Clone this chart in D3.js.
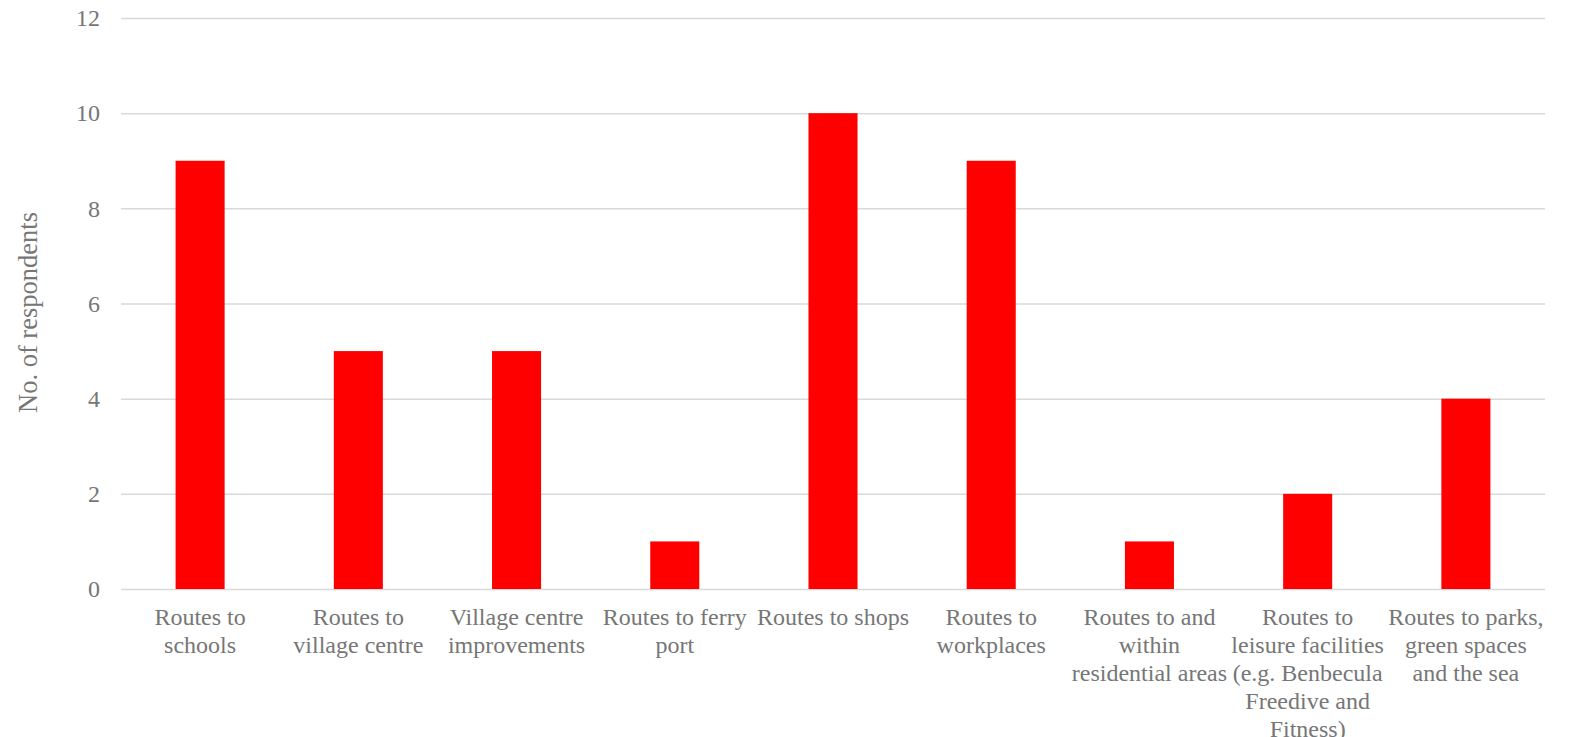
<!DOCTYPE html>
<html>
<head>
<meta charset="utf-8">
<script src="https://cdn.jsdelivr.net/npm/d3@7"></script>
<style>
  html, body { margin: 0; padding: 0; background: #fff; }
  svg { display: block; }
  text { font-family: "Liberation Serif", "Times New Roman", serif; fill: #767676; }
</style>
</head>
<body>
<svg id="chart"></svg>
<script>
// categories, with the line breaks as they appear under the bars
const categories = [
  "Routes to\nschools",
  "Routes to\nvillage centre",
  "Village centre\nimprovements",
  "Routes to ferry\nport",
  "Routes to shops",
  "Routes to\nworkplaces",
  "Routes to and\nwithin\nresidential areas",
  "Routes to\nleisure facilities\n(e.g. Benbecula\nFreedive and\nFitness)",
  "Routes to parks,\ngreen spaces\nand the sea"
]
const respondents = [9, 5, 5, 1, 10, 9, 1, 2, 4]
const yTicks = [0, 2, 4, 6, 8, 10, 12]
const yTitle = "No. of respondents"

const width = 1572
const height = 737
const margin = {top: 18, left: 121, right: 27, bottom: 148}

const svg = d3.select("#chart").attr("width", width).attr("height", height)

const x = d3.scaleBand()
    .domain(categories)
    .range([margin.left, width - margin.right])
    .paddingInner(0.69)
    .paddingOuter(0.345)

const y = d3.scaleLinear()
    .domain([0, 12])
    .range([height - margin.bottom, margin.top])

// gridlines + tick labels
const yAxis = d3.axisLeft(y).tickValues(yTicks).tickSize(-(width - margin.left - margin.right)).tickPadding(21)
const gy = svg.append("g")
    .attr("transform", `translate(${margin.left},0)`)
    .call(yAxis)
gy.select(".domain").remove()
gy.selectAll(".tick line").attr("stroke", "#d9d9d9").attr("stroke-width", 1.5)
gy.selectAll(".tick text")
    .attr("font-size", 24)
    .attr("fill", "#767676")
    .style("font-family", "'Liberation Serif', 'Times New Roman', serif")

// bars
svg.append("g")
    .selectAll("rect")
    .data(respondents)
    .join("rect")
    .attr("x", (d, i) => x(categories[i]))
    .attr("y", d => y(d))
    .attr("width", x.bandwidth())
    .attr("height", d => y(0) - y(d))
    .attr("fill", "#ff0000")

// category labels
const labels = svg.append("g")
    .selectAll("text")
    .data(categories)
    .join("text")
    .attr("text-anchor", "middle")
    .attr("font-size", 24)
    .attr("x", d => x(d) + x.bandwidth() / 2)
    .attr("y", y(0) + 36)
labels.selectAll("tspan")
    .data(d => d.split("\n"))
    .join("tspan")
    .attr("x", function() { return this.parentNode.getAttribute("x") })
    .attr("dy", (d, i) => i === 0 ? 0 : 28)
    .text(d => d)

// y title
svg.append("text")
    .attr("transform", `translate(37,${(y(0) + y(12)) / 2 + 9}) rotate(-90)`)
    .attr("text-anchor", "middle")
    .attr("font-size", 26.5)
    .text(yTitle)
</script>
</body>
</html>
